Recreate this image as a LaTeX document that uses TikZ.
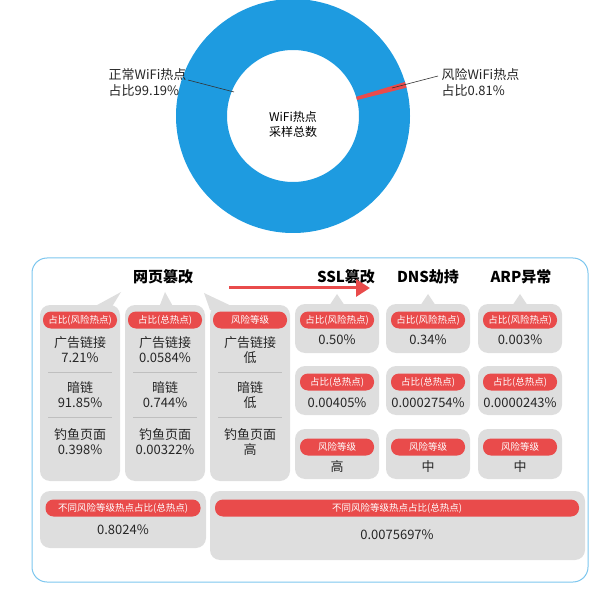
\documentclass[tikz,border=0pt]{standalone}
\usepackage{fontspec}
\setmainfont{Noto Sans CJK SC}
\usetikzlibrary{arrows.meta,calc}
\definecolor{wblue}{HTML}{1E9BE0}
\definecolor{pred}{HTML}{E94B4B}
\definecolor{cgray}{HTML}{DEDEDE}
\definecolor{pborder}{HTML}{7CC6EE}
\tikzset{
 card/.style={fill=cgray,rounded corners=10pt},
 pill/.style={fill=pred,text=white,rounded corners=8pt,font=\fontsize{9.5}{11}\selectfont,minimum height=17pt,inner sep=1pt},
 val/.style={font=\fontsize{13}{15}\selectfont,align=center,text=black!85},
 ttl/.style={font=\bfseries\fontsize{15}{17}\selectfont},
 sepl/.style={draw=black!25,line width=0.8pt},
 lbl/.style={font=\fontsize{13}{16}\selectfont,align=left,text=black!85}
}
\begin{document}
\begin{tikzpicture}[x=1pt,y=-1pt]
\useasboundingbox (0,0) rectangle (600,596);
% donut
\fill[wblue,even odd rule] (293,116) circle (117) (293,116) circle (66);
\fill[pred] ($(293,116)+(-14:66)$) -- ($(293,116)+(-14:117)$) -- ($(293,116)+(-16.9:117)$) -- ($(293,116)+(-16.9:66)$) -- cycle;
\node[font=\fontsize{12}{15}\selectfont,align=center] (ctr) at (293,124) {WiFi热点\\采样总数};
\coordinate (la) at (188,80); \coordinate (lb) at (234,92);
\draw[black!80,line width=0.6pt] (la) -- (lb);
\coordinate (ra) at (392,88); \coordinate (rb) at (438,76);
\draw[black!80,line width=0.6pt] (ra) -- (rb);
\node[lbl,anchor=east] (nl) at (190,83) {正常WiFi热点\\占比99.19\%};
\node[lbl,anchor=west] (nr) at (438,83) {风险WiFi热点\\占比0.81\%};
% panel
\draw[pborder,line width=1pt,rounded corners=15pt] (32,258) rectangle (588,582);
% titles
\node[ttl] (t1) at (163,277) {网页篡改};
\node[ttl] (t2) at (346,277) {SSL篡改};
\node[ttl] (t3) at (428,277) {DNS劫持};
\node[ttl] (t4) at (521,277) {ARP异常};
\coordinate (as) at (229,288); \coordinate (ae) at (370,288);
\draw[pred,line width=3pt,-{Triangle[length=14pt,width=17pt]}] (as) -- (ae);
% tall cards
\fill[cgray] (88,310) -- (121,292) -- (110,310) -- cycle;
\fill[cgray] (158,310) -- (165,292) -- (175,310) -- cycle;
\fill[cgray] (210,310) -- (204,293) -- (240,310) -- cycle;
\foreach \x/\n in {40/a,125/b,210/c}{
 \fill[card] (\x,305) rectangle ++(80,176);
 \draw[sepl] (\x+8,372) -- ++(64,0);
 \draw[sepl] (\x+8,417) -- ++(64,0);
}
\node[pill,minimum width=74pt] (pa) at (80,320) {占比(风险热点)};
\node[pill,minimum width=74pt] (pb) at (165,320) {占比(总热点)};
\node[pill,minimum width=74pt] (pc) at (250,320) {风险等级};
\node[val] (a1) at (80,350) {广告链接\\7.21\%};
\node[val] (a2) at (80,395) {暗链\\91.85\%};
\node[val] (a3) at (80,442) {钓鱼页面\\0.398\%};
\node[val] (b1) at (165,350) {广告链接\\0.0584\%};
\node[val] (b2) at (165,395) {暗链\\0.744\%};
\node[val] (b3) at (165,442) {钓鱼页面\\0.00322\%};
\node[val] (c1) at (250,350) {广告链接\\低};
\node[val] (c2) at (250,395) {暗链\\低};
\node[val] (c3) at (250,442) {钓鱼页面\\高};
% right cards
\foreach \x/\t in {337/2,428/3,520/4}{
 \fill[cgray] (\x-8,306) -- (\x,294) -- (\x+8,306) -- cycle;
 \fill[card] (\x-42,304) rectangle ++(84,49);
 \fill[card] (\x-42,366) rectangle ++(84,49);
 \fill[card] (\x-42,429) rectangle ++(84,50);
}
\node[pill,minimum width=74pt] (s1) at (337,320) {占比(风险热点)};
\node[pill,minimum width=74pt] (s2) at (337,382) {占比(总热点)};
\node[pill,minimum width=74pt] (s3) at (337,447) {风险等级};
\node[pill,minimum width=74pt] (d1) at (428,320) {占比(风险热点)};
\node[pill,minimum width=74pt] (d2) at (428,382) {占比(总热点)};
\node[pill,minimum width=74pt] (d3) at (428,447) {风险等级};
\node[pill,minimum width=74pt] (r1) at (520,320) {占比(风险热点)};
\node[pill,minimum width=74pt] (r2) at (520,382) {占比(总热点)};
\node[pill,minimum width=74pt] (r3) at (520,447) {风险等级};
\node[val] (sv1) at (337,340) {0.50\%};
\node[val] (sv2) at (337,403) {0.00405\%};
\node[val] (sv3) at (337,467) {高};
\node[val] (dv1) at (428,340) {0.34\%};
\node[val] (dv2) at (428,403) {0.0002754\%};
\node[val] (dv3) at (428,467) {中};
\node[val] (rv1) at (520,340) {0.003\%};
\node[val] (rv2) at (520,403) {0.0000243\%};
\node[val] (rv3) at (520,467) {中};
% bottom
\fill[card] (40,491) rectangle (206,548);
\fill[card] (210,491) rectangle (585,560);
\node[pill,minimum width=155pt] (bp1) at (123,508) {不同风险等级热点占比(总热点)};
\node[pill,minimum width=364pt] (bp2) at (397,508) {不同风险等级热点占比(总热点)};
\node[val] (bv1) at (123,530) {0.8024\%};
\node[val] (bv2) at (397,535) {0.0075697\%};
\end{tikzpicture}
\end{document}
